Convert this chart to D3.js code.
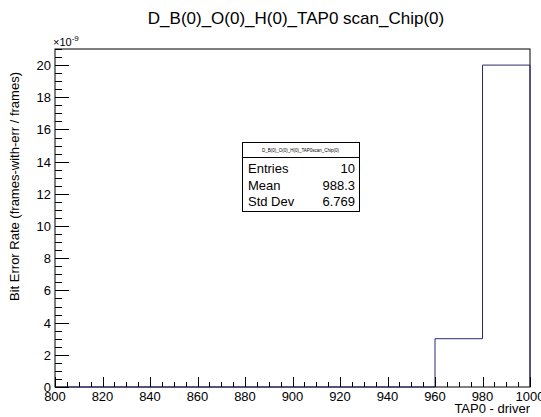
<!DOCTYPE html>
<html><head><meta charset="utf-8">
<script src="https://cdn.jsdelivr.net/npm/d3@7"></script>
<style>body{margin:0;background:#fff}text{font-family:"Liberation Sans",Arial,sans-serif}</style>
</head><body><div id="chart"></div>
<script>
const binEdges = [800,820,840,860,880,900,920,940,960,980,1000];
const binValues = [0,0,0,0,0,0,0,0,3,20]; // x 1e-9
const xTicks = [800,820,840,860,880,900,920,940,960,980,1000];
const yTicks = [0,2,4,6,8,10,12,14,16,18,20];
const statLabels = ["Entries","Mean","Std Dev"];
const statValues = ["10","988.3","6.769"];
const title = "D_B(0)_O(0)_H(0)_TAP0 scan_Chip(0)";
const statTitle = "D_B(0)_O(0)_H(0)_TAP0scan_Chip(0)";

const W=541,H=417;
const m={l:55,r:530,t:49,b:387};
const svg=d3.select("#chart").append("svg").attr("width",W).attr("height",H);
const x=d3.scaleLinear().domain([800,1000]).range([m.l,m.r]);
const y=d3.scaleLinear().domain([0,21]).range([m.b,m.t]);

// frame
svg.append("rect").attr("x",m.l).attr("y",m.t).attr("width",m.r-m.l).attr("height",m.b-m.t)
  .attr("fill","none").attr("stroke","#000").attr("stroke-width",1);

// histogram step line
const pts=[];
binValues.forEach((v,i)=>{pts.push([binEdges[i],v]);pts.push([binEdges[i+1],v]);});
pts.push([1000,0]);
svg.append("path").datum(pts)
  .attr("d",d3.line().x(d=>x(d[0])).y(d=>y(d[1])))
  .attr("fill","none").attr("stroke","#2a2a72").attr("stroke-width",1);

// x axis ticks
const xMinor=d3.range(800,1000.1,5);
const gx=svg.append("g");
gx.selectAll("line.mi").data(xMinor).enter().append("line")
  .attr("x1",d=>Math.round(x(d))+0.5).attr("x2",d=>Math.round(x(d))+0.5)
  .attr("y1",m.b).attr("y2",d=>m.b-(d%20===0?10:5)).attr("stroke","#000");
gx.selectAll("text").data(xTicks).enter().append("text")
  .attr("x",d=>x(d)).attr("y",m.b+14).attr("text-anchor","middle")
  .attr("font-size",13).text(d=>d);

// y axis ticks
const yMinor=d3.range(0,21.01,0.5);
const gy=svg.append("g");
gy.selectAll("line").data(yMinor).enter().append("line")
  .attr("y1",d=>Math.round(y(d))+0.5).attr("y2",d=>Math.round(y(d))+0.5)
  .attr("x1",m.l).attr("x2",d=>m.l+(d%2===0?14:7)).attr("stroke","#000");
gy.selectAll("text").data(yTicks).enter().append("text")
  .attr("x",m.l-4).attr("y",d=>y(d)+5).attr("text-anchor","end")
  .attr("font-size",13).text(d=>d);

// exponent
const ex=svg.append("text").attr("x",53).attr("y",46).attr("font-size",11);
ex.append("tspan").text("\u00d710");
ex.append("tspan").attr("dy",-5).attr("font-size",8).text("-9");

// title
svg.append("text").attr("x",296).attr("y",24).attr("text-anchor","middle")
  .attr("font-size",17).text(title);

// axis titles
svg.append("text").attr("x",530).attr("y",413).attr("text-anchor","end")
  .attr("font-size",13).text("TAP0 - driver");
svg.append("text").attr("transform","translate(19,72) rotate(-90)").attr("text-anchor","end")
  .attr("font-size",13).text("Bit Error Rate (frames-with-err / frames)");

// stats box
const bx=242,by=142,bw=117,bh=69;
svg.append("rect").attr("x",bx+0.5).attr("y",by+0.5).attr("width",bw).attr("height",bh)
  .attr("fill","#fff").attr("stroke","#000");
svg.append("line").attr("x1",bx).attr("x2",bx+bw).attr("y1",by+15.5).attr("y2",by+15.5).attr("stroke","#000");
svg.append("text").attr("x",bx+bw/2).attr("y",by+10).attr("text-anchor","middle")
  .attr("font-size",4.5).text(statTitle);
statLabels.forEach((s,i)=>{
  svg.append("text").attr("x",bx+6).attr("y",by+31+i*16.5).attr("font-size",13).text(s);
  svg.append("text").attr("x",bx+bw-4).attr("y",by+31+i*16.5).attr("text-anchor","end").attr("font-size",13).text(statValues[i]);
});
</script></body></html>
